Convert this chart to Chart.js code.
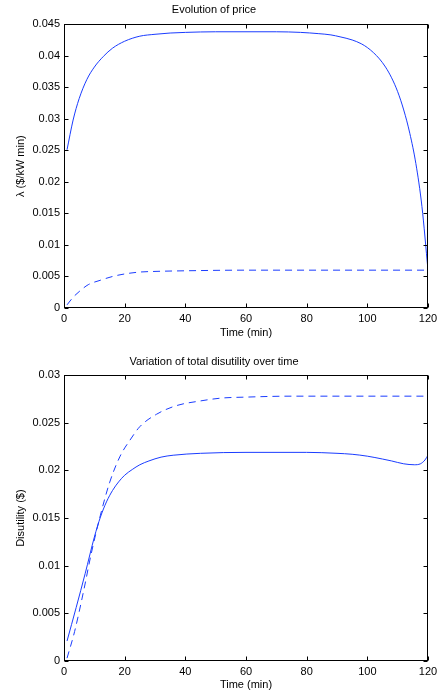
<!DOCTYPE html>
<html lang="en">
<head>
    <meta charset="UTF-8">
    <title>Evolution of price</title>
    <script src="https://cdn.jsdelivr.net/npm/chart.js"></script>
    <style>
        html, body { margin: 0; padding: 0; background: #fff; overflow: hidden; }
        .panel { position: absolute; left: 0; width: 442px; height: 344px; }
    </style>
</head>
<body>
    <!-- top: price, bottom: disutility -->
    <div class="panel" style="top:0"><canvas id="graficoPrecio" width="442" height="344"></canvas></div>
    <div class="panel" style="top:352px"><canvas id="graficoDisutilidad" width="442" height="344"></canvas></div>

    <script>
        // Price (solid)
        const tiempoPrecio = [1, 3, 5, 7.5, 10, 13, 16, 20, 25, 30, 35, 40, 50, 60, 70, 78, 84, 88, 91, 95, 98, 100, 102, 104, 106, 108, 110, 112, 114, 116, 118, 120];
        const precio = [0.0251, 0.0298, 0.0332, 0.0362, 0.0382, 0.0399, 0.0412, 0.0423, 0.0431, 0.0434, 0.0436, 0.0437, 0.0438, 0.0438, 0.0438, 0.0437, 0.0435, 0.0433, 0.0430, 0.0425, 0.0419, 0.0413, 0.0405, 0.0395, 0.0382, 0.0365, 0.0343, 0.0314, 0.0277, 0.0229, 0.0161, 0.0060];
        // Price (dashed)
        const tiempoPrecioB = [1, 3, 5, 8, 12, 16, 20, 25, 30, 40, 60, 80, 100, 120];
        const precioB = [0.0005, 0.0017, 0.0026, 0.0037, 0.0044, 0.0050, 0.0054, 0.0057, 0.0058, 0.0059, 0.0060, 0.0060, 0.0060, 0.0060];

        // Disutility (solid)
        const tiempoDis = [1, 4, 7, 10, 12, 14, 16, 18, 20, 22.5, 25, 28, 32, 36, 45, 60, 80, 90, 95, 100, 105, 108, 112, 115.5, 117.5, 119, 120];
        const disutilidad = [0.0021, 0.0056, 0.0092, 0.0130, 0.0151, 0.0167, 0.0179, 0.0188, 0.0195, 0.0201, 0.0206, 0.0210, 0.0214, 0.0216, 0.0218, 0.0219, 0.0219, 0.0218, 0.0217, 0.0215, 0.0212, 0.0210, 0.0207, 0.0206, 0.0207, 0.0211, 0.0216];
        // Disutility (dashed)
        const tiempoDisB = [1, 3.5, 6.5, 9, 12, 15, 18.5, 22, 25, 30.5, 37, 45, 52, 60, 75, 90, 120];
        const disutilidadB = [0.0003, 0.0031, 0.0074, 0.0113, 0.0153, 0.0187, 0.0215, 0.0233, 0.0246, 0.0259, 0.0268, 0.0273, 0.0276, 0.0277, 0.0278, 0.0278, 0.0278];

        const ejeX = [0, 20, 40, 60, 80, 100, 120];

        const fuente = { family: "'Liberation Sans', Arial, sans-serif", size: 11, weight: 'normal' };
        Chart.defaults.color = '#000';
        Chart.defaults.font = fuente;

        // box + inward ticks like matlab
        const marco = {
            id: 'marco',
            afterDatasetsDraw(chart) {
                const { ctx, chartArea: a, scales: { x, y } } = chart;
                const L = Math.round(a.left) + 0.5, R = Math.round(a.right) - 0.5;
                const T = Math.round(a.top) + 0.5, B = Math.round(a.bottom) - 0.5;
                ctx.save();
                ctx.strokeStyle = '#000';
                ctx.lineWidth = 1;
                ctx.strokeRect(L, T, R - L, B - T);
                ctx.beginPath();
                x.ticks.forEach(t => {
                    const px = Math.round(x.getPixelForValue(t.value)) + 0.5;
                    ctx.moveTo(px, B); ctx.lineTo(px, B - 4);
                    ctx.moveTo(px, T); ctx.lineTo(px, T + 4);
                });
                y.ticks.forEach(t => {
                    const py = Math.round(y.getPixelForValue(t.value)) + 0.5;
                    ctx.moveTo(L, py); ctx.lineTo(L + 4, py);
                    ctx.moveTo(R, py); ctx.lineTo(R - 4, py);
                });
                ctx.stroke();
                ctx.restore();
            }
        };

        function puntos(xs, ys) {
            return xs.map((t, i) => ({ x: t, y: ys[i] }));
        }

        function serie(datos, discontinua) {
            return {
                data: datos,
                borderColor: '#1a3cff',
                borderWidth: 1,
                borderDash: discontinua ? [7, 5] : [],
                pointRadius: 0,
                cubicInterpolationMode: 'monotone',
                fill: false
            };
        }

        function crearGrafico(id, titulo, tituloY, maxY, padTitulo, altoX, series) {
            return new Chart(document.getElementById(id), {
                type: 'line',
                data: { datasets: series },
                plugins: [marco],
                options: {
                    responsive: false,
                    animation: false,
                    layout: { padding: { left: 0, right: 14, top: 0, bottom: 0 } },
                    plugins: {
                        legend: { display: false },
                        tooltip: { enabled: false },
                        title: { display: true, text: titulo, font: fuente, color: '#000', padding: { top: 3, bottom: padTitulo } }
                    },
                    scales: {
                        x: {
                            type: 'linear', min: 0, max: 120,
                            afterBuildTicks: s => { s.ticks = ejeX.map(v => ({ value: v })); },
                            ticks: { padding: 4, maxRotation: 0, autoSkip: false, callback: v => String(v) },
                            grid: { display: false, drawTicks: false },
                            border: { display: false },
                            title: { display: true, text: 'Time (min)', font: fuente, padding: { top: 0, bottom: 4 } },
                            afterFit: s => { s.height = altoX; }
                        },
                        y: {
                            min: 0, max: maxY,
                            ticks: { stepSize: 0.005, padding: 4, callback: v => String(+v.toFixed(4)) },
                            grid: { display: false, drawTicks: false },
                            border: { display: false },
                            title: { display: true, text: tituloY, font: fuente, padding: { top: 14, bottom: 0 } },
                            afterFit: s => { s.width = 64; }
                        }
                    }
                }
            });
        }

        crearGrafico('graficoPrecio', 'Evolution of price', 'λ ($/kW min)', 0.045, 8, 36, [
            serie(puntos(tiempoPrecio, precio), false),
            serie(puntos(tiempoPrecioB, precioB), true)
        ]);

        crearGrafico('graficoDisutilidad', 'Variation of total disutility over time', 'Disutility ($)', 0.03, 7, 35, [
            serie(puntos(tiempoDis, disutilidad), false),
            serie(puntos(tiempoDisB, disutilidadB), true)
        ]);
    </script>
</body>
</html>
